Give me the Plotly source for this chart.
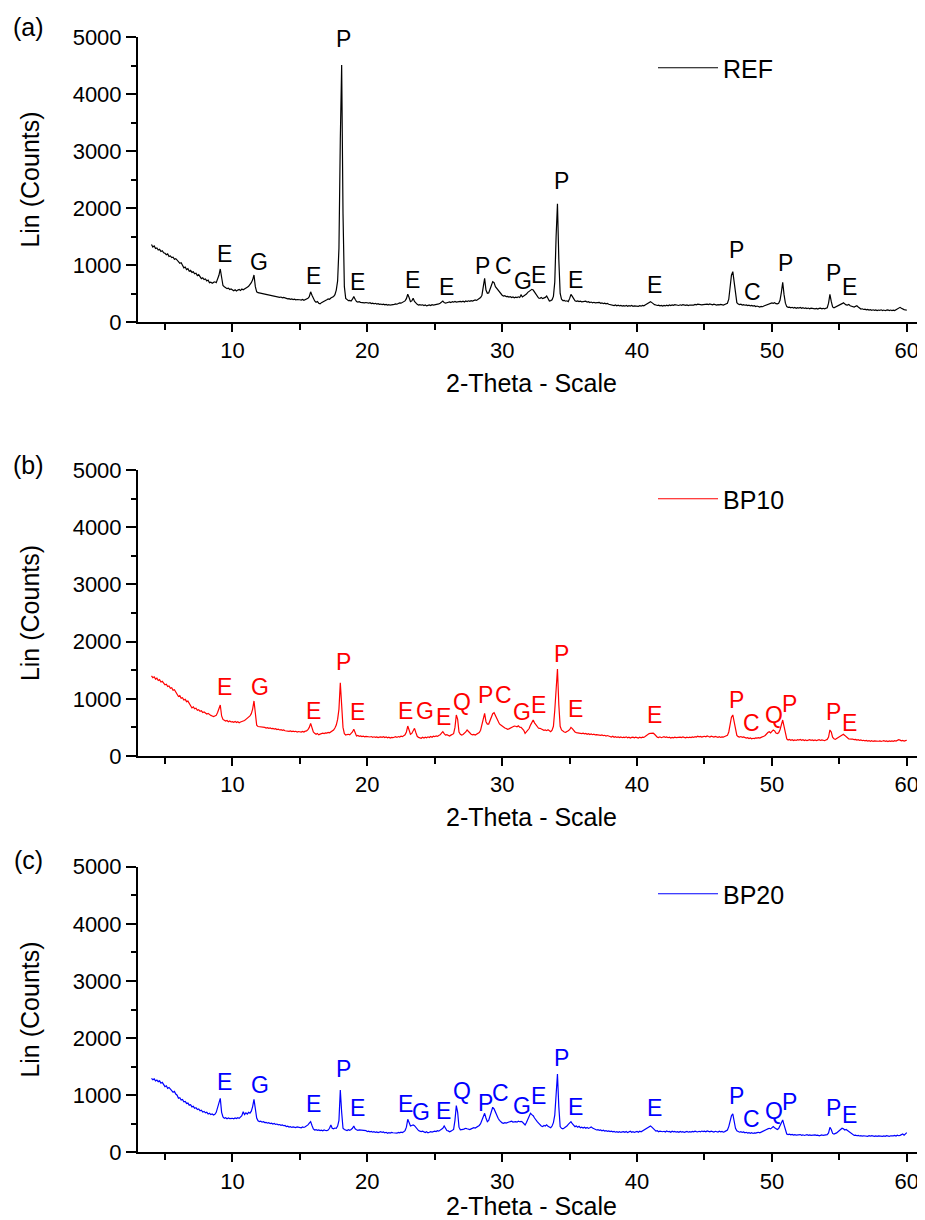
import plotly.graph_objects as go

# ---------------- data (2-theta scan: start 4.0 deg, step 0.1 deg) ----------------
two_theta_start = 4.0
two_theta_step = 0.1

ref_counts = [
    1360, 1315, 1335, 1290, 1300, 1262, 1275, 1238, 1250, 1215,
    1205, 1180, 1195, 1150, 1160, 1130, 1138, 1100, 1112, 1075,
    1060, 1030, 1040, 995, 950, 965, 920, 935, 890, 905,
    870, 880, 845, 855, 815, 830, 790, 760, 775, 745,
    755, 720, 735, 690, 700, 680, 695, 705, 690, 740,
    820, 930, 760, 640, 620, 600, 585, 595, 570, 580,
    555, 548, 565, 545, 560, 570, 552, 578, 565, 585,
    590, 610, 625, 650, 690, 740, 825, 620, 530, 515,
    510, 498, 505, 488, 492, 478, 482, 470, 476, 466,
    460, 452, 455, 440, 446, 432, 438, 425, 430, 420,
    415, 405, 410, 398, 404, 394, 400, 388, 394, 386,
    390, 384, 396, 380, 392, 398, 415, 445, 530, 470,
    410, 370, 345, 360, 330, 318, 340, 350, 365, 372,
    390, 405, 398, 420, 430, 445, 480, 560, 720, 1300,
    3200, 4510, 1900, 620, 415, 390, 374, 380, 368, 400,
    445, 400, 360, 350, 356, 345, 340, 348, 335, 342,
    338, 330, 340, 325, 332, 320, 328, 315, 322, 310,
    315, 305, 312, 300, 308, 298, 304, 295, 302, 300,
    310, 318, 312, 325, 335, 330, 340, 352, 370, 410,
    486, 430, 356, 370, 415, 360, 330, 310, 298, 305,
    295, 302, 288, 298, 282, 295, 300, 290, 305, 298,
    300, 310, 305, 318, 330, 345, 368, 340, 330, 338,
    345, 352, 340, 358, 348, 362, 350, 355, 348, 360,
    355, 365, 352, 368, 358, 372, 362, 375, 368, 380,
    386, 378, 392, 410, 430, 470, 600, 766, 560, 503,
    510, 560, 640, 708, 690, 620, 590, 545, 510, 490,
    470, 455, 462, 444, 450, 438, 446, 430, 440, 425,
    435, 428, 442, 430, 474, 440, 455, 470, 490, 520,
    540, 555, 573, 560, 520, 480, 450, 420, 415, 430,
    410, 418, 432, 456, 415, 368, 375, 390, 450, 700,
    1500, 2074, 1100, 500, 400, 374, 380, 365, 372, 358,
    410, 485, 450, 395, 372, 362, 370, 357, 366, 355,
    360, 352, 365, 348, 356, 342, 350, 338, 346, 335,
    340, 332, 345, 328, 336, 322, 330, 318, 326, 312,
    305, 296, 302, 288, 298, 284, 294, 282, 290, 280,
    288, 278, 292, 276, 286, 280, 290, 276, 284, 278,
    282, 275, 288, 278, 292, 285, 300, 315, 330, 350,
    357, 340, 320, 305, 298, 290, 296, 284, 292, 280,
    290, 282, 294, 285, 298, 288, 300, 292, 304, 296,
    300, 290, 302, 294, 306, 296, 292, 300, 288, 298,
    294, 302, 296, 308, 300, 312, 304, 310, 300, 306,
    310, 302, 314, 306, 318, 308, 300, 312, 304, 298,
    306, 300, 310, 302, 296, 308, 318, 330, 400, 600,
    820, 883, 700, 450, 340, 315, 305, 312, 298, 305,
    294, 300, 288, 296, 282, 290, 278, 286, 272, 280,
    270, 262, 275, 268, 280, 290, 298, 310, 318, 326,
    335, 328, 339, 322, 318, 330, 380, 520, 696, 480,
    330, 270, 257, 262, 250, 258, 246, 255, 242, 252,
    245, 254, 240, 250, 238, 248, 236, 245, 232, 242,
    238, 246, 232, 240, 228, 238, 244, 232, 240, 230,
    236, 250, 330, 486, 360, 265, 250, 262, 275, 280,
    285, 300, 322, 339, 318, 300, 296, 308, 285, 278,
    270, 262, 275, 285, 262, 240, 228, 232, 220, 226,
    215, 222, 210, 218, 206, 214, 204, 212, 200, 210,
    205, 214, 202, 210, 198, 208, 214, 202, 210, 200,
    208, 200, 212, 220, 232, 257, 240, 222, 218, 212,
    210,
]

bp10_counts = [
    1400, 1370, 1385, 1345, 1360, 1320, 1335, 1295, 1305, 1270,
    1245, 1255, 1215, 1225, 1185, 1195, 1150, 1160, 1120, 1095,
    1040, 1055, 1010, 1020, 980, 990, 950, 960, 920, 905,
    840, 860, 825, 835, 800, 810, 780, 790, 760, 770,
    750, 735, 745, 720, 710, 700, 688, 700, 710, 760,
    830, 892, 700, 640, 625, 610, 620, 600, 612, 595,
    600, 590, 605, 585, 598, 582, 595, 600, 612, 620,
    640, 655, 670, 700, 740, 820, 962, 700, 540, 515,
    513, 505, 510, 495, 500, 488, 495, 484, 490, 478,
    484, 470, 478, 462, 468, 455, 462, 448, 455, 442,
    437, 445, 432, 440, 428, 435, 425, 432, 420, 428,
    425, 418, 430, 420, 435, 440, 460, 500, 571, 480,
    420, 396, 380, 395, 370, 382, 390, 398, 392, 405,
    400, 412, 405, 420, 430, 455, 490, 540, 640, 820,
    1282, 900, 500, 390, 367, 375, 380, 370, 390, 420,
    466, 410, 350, 358, 345, 352, 340, 348, 335, 342,
    338, 345, 332, 340, 328, 336, 325, 334, 322, 330,
    335, 326, 338, 322, 332, 318, 328, 315, 325, 320,
    330, 338, 325, 340, 332, 345, 338, 352, 370, 420,
    524, 455, 379, 395, 430, 484, 410, 345, 325, 318,
    309, 327, 315, 330, 318, 335, 322, 340, 328, 345,
    338, 350, 342, 360, 370, 400, 425, 390, 365, 372,
    358, 350, 365, 372, 390, 500, 717, 640, 420, 380,
    367, 375, 390, 420, 455, 430, 395, 380, 370, 378,
    367, 380, 390, 410, 450, 550, 660, 746, 600, 559,
    559, 620, 700, 740, 757, 700, 640, 600, 560, 542,
    520, 505, 490, 480, 466, 475, 490, 500, 512, 524,
    520, 510, 528, 505, 501, 480, 450, 396, 420, 450,
    480, 540, 600, 629, 580, 540, 505, 485, 484, 470,
    460, 450, 455, 443, 460, 440, 425, 450, 520, 800,
    1200, 1521, 900, 520, 455, 430, 420, 415, 425, 440,
    460, 501, 480, 440, 420, 410, 405, 398, 396, 392,
    400, 388, 395, 380, 390, 375, 385, 372, 380, 368,
    375, 367, 372, 360, 368, 355, 362, 350, 358, 345,
    340, 332, 345, 328, 338, 325, 335, 322, 332, 320,
    330, 322, 335, 318, 328, 315, 325, 330, 318, 328,
    322, 315, 328, 318, 330, 325, 340, 360, 380, 392,
    396, 392, 398, 380, 350, 330, 322, 335, 320, 330,
    338, 325, 332, 320, 328, 315, 325, 318, 330, 322,
    326, 318, 330, 322, 335, 325, 318, 330, 320, 328,
    322, 332, 325, 338, 330, 345, 335, 342, 330, 338,
    345, 335, 350, 340, 332, 345, 338, 330, 342, 335,
    328, 338, 325, 335, 330, 340, 345, 360, 420, 560,
    680, 717, 600, 430, 360, 338, 330, 340, 328, 335,
    318, 312, 320, 305, 315, 300, 310, 305, 318, 312,
    320, 312, 325, 330, 345, 360, 390, 410, 425, 405,
    430, 455, 440, 400, 392, 405, 460, 560, 629, 520,
    380, 300, 280, 290, 275, 285, 270, 282, 272, 285,
    278, 288, 275, 284, 270, 280, 268, 278, 285, 275,
    282, 270, 280, 268, 278, 285, 272, 282, 275, 268,
    280, 290, 330, 455, 420, 330, 300, 290, 305, 320,
    330, 345, 370, 379, 360, 330, 320, 300, 292, 295,
    295, 285, 290, 278, 285, 272, 280, 268, 275, 265,
    272, 262, 270, 258, 268, 255, 265, 260, 268, 258,
    265, 255, 262, 270, 258, 265, 252, 262, 255, 265,
    258, 268, 262, 275, 285, 278, 265, 272, 262, 270,
    275,
]

bp20_counts = [
    1295, 1270, 1285, 1250, 1265, 1237, 1250, 1210, 1225, 1190,
    1149, 1165, 1120, 1135, 1095, 1080, 1050, 1065, 1020, 1000,
    945, 955, 915, 925, 885, 890, 855, 862, 825, 832,
    795, 805, 770, 780, 748, 758, 728, 738, 705, 715,
    690, 700, 672, 684, 660, 670, 653, 665, 700, 780,
    870, 945, 700, 620, 595, 605, 588, 600, 590, 598,
    595, 585, 600, 590, 605, 595, 610, 640, 712, 660,
    690, 670, 700, 685, 720, 800, 928, 760, 600, 550,
    537, 545, 528, 535, 520, 525, 510, 518, 502, 510,
    496, 505, 488, 495, 480, 486, 472, 478, 465, 470,
    449, 458, 442, 450, 436, 445, 440, 432, 446, 438,
    438, 430, 445, 435, 448, 460, 480, 510, 537, 470,
    410, 391, 398, 385, 392, 380, 388, 375, 390, 382,
    379, 390, 420, 478, 420, 410, 425, 420, 460, 560,
    1091, 700, 420, 400, 390, 380, 395, 385, 400, 420,
    461, 410, 395, 385, 392, 391, 380, 388, 375, 380,
    362, 370, 358, 365, 352, 360, 348, 356, 345, 352,
    360, 348, 356, 340, 350, 333, 345, 338, 350, 342,
    337, 345, 335, 348, 340, 352, 345, 360, 380, 440,
    578, 520, 460, 470, 478, 465, 440, 400, 380, 370,
    362, 370, 355, 345, 360, 340, 350, 362, 355, 365,
    370, 362, 378, 370, 385, 395, 420, 461, 430, 380,
    375, 360, 370, 380, 400, 560, 817, 700, 440, 395,
    391, 400, 410, 420, 412, 405, 398, 410, 420, 430,
    425, 438, 450, 470, 500, 560, 640, 683, 600, 537,
    560, 640, 720, 788, 760, 700, 640, 595, 560, 530,
    515, 508, 520, 510, 525, 530, 537, 545, 530, 540,
    537, 528, 545, 535, 540, 530, 505, 478, 520, 580,
    640, 683, 660, 640, 600, 560, 537, 510, 480, 460,
    449, 470, 460, 480, 455, 440, 430, 460, 520, 650,
    1100, 1371, 800, 450, 420, 412, 425, 440, 460, 490,
    520, 537, 500, 470, 449, 460, 440, 455, 430, 440,
    425, 440, 420, 435, 418, 430, 445, 425, 410, 400,
    391, 398, 385, 392, 378, 388, 372, 380, 368, 375,
    362, 370, 358, 366, 352, 362, 350, 360, 348, 358,
    362, 350, 365, 345, 360, 370, 352, 362, 348, 358,
    365, 352, 370, 360, 375, 385, 400, 420, 440, 455,
    461, 440, 410, 385, 370, 378, 360, 372, 365, 360,
    368, 355, 372, 360, 365, 352, 370, 358, 366, 352,
    360, 350, 365, 355, 362, 348, 358, 366, 352, 362,
    355, 365, 358, 370, 362, 356, 368, 360, 372, 362,
    370, 360, 375, 365, 358, 370, 362, 355, 368, 360,
    355, 368, 358, 365, 352, 362, 372, 390, 450, 560,
    640, 671, 560, 420, 375, 360, 352, 362, 348, 355,
    340, 350, 336, 345, 333, 342, 330, 340, 335, 345,
    350, 340, 355, 360, 370, 385, 400, 410, 420, 410,
    440, 449, 430, 410, 400, 415, 460, 520, 566, 480,
    370, 320, 310, 318, 305, 312, 300, 310, 302, 308,
    303, 310, 298, 306, 295, 302, 310, 298, 305, 296,
    300, 292, 305, 296, 302, 290, 298, 305, 295, 300,
    305, 310, 340, 438, 400, 330, 318, 325, 340, 360,
    380, 400, 420, 410, 390, 400, 380, 360, 340, 320,
    305, 295, 300, 290, 296, 286, 292, 282, 290, 284,
    288, 280, 290, 282, 292, 284, 278, 288, 280, 286,
    282, 290, 278, 286, 280, 292, 284, 278, 290, 282,
    288, 295, 284, 300, 290, 296, 310, 320, 300, 315,
    344,
]

# phase labels: (letter, 2-theta, counts)
ref_labels = [
    ("E", 9.41, 1193), ("G", 11.99, 1053), ("E", 16.0, 807), ("P", 18.25, 4965),
    ("E", 19.3, 702), ("E", 23.35, 737), ("E", 25.9, 614), ("P", 28.52, 982),
    ("C", 30.13, 982), ("G", 31.57, 719), ("E", 32.68, 825), ("P", 34.41, 2474),
    ("E", 35.4, 737), ("E", 41.3, 649), ("P", 47.39, 1263), ("C", 48.55, 526),
    ("P", 51.02, 1035), ("P", 54.56, 860), ("E", 55.72, 614),
]
bp10_labels = [
    ("E", 9.41, 1201), ("G", 12.04, 1201), ("E", 16.03, 792), ("P", 18.26, 1638),
    ("E", 19.3, 764), ("E", 22.84, 792), ("G", 24.25, 792), ("E", 25.68, 687),
    ("Q", 27.04, 950), ("P", 28.77, 1066), ("C", 30.08, 1066), ("G", 31.49, 775),
    ("E", 32.68, 892), ("P", 34.41, 1783), ("E", 35.4, 816), ("E", 41.3, 717),
    ("P", 47.39, 979), ("C", 48.5, 583), ("Q", 50.15, 717), ("P", 51.27, 909),
    ("P", 54.56, 775), ("E", 55.72, 583),
]
bp20_labels = [
    ("E", 9.41, 1226), ("G", 12.04, 1179), ("E", 16.03, 840), ("P", 18.26, 1453),
    ("E", 19.3, 770), ("E", 22.84, 840), ("G", 24.0, 700), ("E", 25.68, 723),
    ("Q", 27.04, 1079), ("P", 28.77, 858), ("C", 29.88, 1044), ("G", 31.49, 811),
    ("E", 32.68, 986), ("P", 34.41, 1657), ("E", 35.4, 799), ("E", 41.3, 770),
    ("P", 47.39, 986), ("C", 48.5, 578), ("Q", 50.15, 723), ("P", 51.27, 886),
    ("P", 54.56, 770), ("E", 55.72, 653),
]

series_names = ["REF", "BP10", "BP20"]
panel_tags = ["(a)", "(b)", "(c)"]
x_tick_values = [10, 20, 30, 40, 50, 60]

# ---------------- figure ----------------
# the page body has an 8 px margin, so the figure is 8 px smaller and all
# layout positions are given in page pixels and shifted by that margin
PAGE_OFF = 8
W, H = 925 - PAGE_OFF, 1220 - PAGE_OFF
FONT = "Liberation Sans, Arial, sans-serif"
colors = ["#000000", "#ff0000", "#0000ff"]
all_counts = [ref_counts, bp10_counts, bp20_counts]
all_labels = [ref_labels, bp10_labels, bp20_labels]

def pxf(p):
    return (p - PAGE_OFF) / W

def pyf(p):
    return 1 - (p - PAGE_OFF) / H

x_dom = [pxf(138), 1.0]
y_doms = [[pyf(322), pyf(37)], [pyf(756), pyf(470)], [pyf(1152.3), pyf(866.7)]]
legend_y = [pyf(68), pyf(499), pyf(894)]
tag_y = [pyf(27), pyf(465), pyf(860)]

fig = go.Figure()
annotations = []
layout = dict(
    width=W, height=H,
    margin=dict(l=0, r=0, t=0, b=0),
    paper_bgcolor="white", plot_bgcolor="white",
    font=dict(family=FONT, color="black"),
    showlegend=True,
)

for i in range(3):
    sfx = "" if i == 0 else str(i + 1)
    counts = all_counts[i]
    tt = [round(two_theta_start + k * two_theta_step, 2) for k in range(len(counts))]
    lname = "legend" if i == 0 else "legend" + sfx
    fig.add_trace(go.Scatter(
        x=tt, y=counts, mode="lines", name=series_names[i],
        line=dict(color=colors[i], width=1.2),
        xaxis="x" + sfx, yaxis="y" + sfx, legend=lname,
        hoverinfo="skip",
    ))
    layout["xaxis" + sfx] = dict(
        domain=x_dom, anchor="y" + sfx, range=[3, 61.35],
        showline=True, linewidth=2, linecolor="black",
        ticks="outside", ticklen=8, tickwidth=2, tickcolor="black",
        tickvals=x_tick_values, tickfont=dict(size=22, family=FONT),
        minor=dict(dtick=5, tick0=0, ticks="outside", ticklen=6, tickwidth=2,
                   tickcolor="black", showgrid=False),
        showgrid=False, zeroline=False, automargin=False,
        title=dict(text="2-Theta - Scale", font=dict(size=25, family=FONT), standoff=12),
    )
    layout["yaxis" + sfx] = dict(
        domain=y_doms[i], anchor="x" + sfx, range=[0, 5000],
        showline=True, linewidth=2, linecolor="black",
        ticks="outside", ticklen=10, tickwidth=2, tickcolor="black",
        tickmode="linear", tick0=0, dtick=1000, tickfont=dict(size=22, family=FONT),
        minor=dict(dtick=500, tick0=0, ticks="outside", ticklen=5, tickwidth=2,
                   tickcolor="black", showgrid=False),
        showgrid=False, zeroline=False, automargin=False,
        title=dict(text="Lin (Counts)", font=dict(size=25, family=FONT), standoff=26),
    )
    layout[lname] = dict(
        x=pxf(653), y=legend_y[i], xanchor="left", yanchor="middle",
        bgcolor="rgba(0,0,0,0)", borderwidth=0,
        font=dict(size=25, family=FONT, color="black"),
        itemwidth=60,
    )
    for (txt, lx, ly) in all_labels[i]:
        annotations.append(dict(
            x=lx, y=ly, xref="x" + sfx, yref="y" + sfx, text=txt,
            showarrow=False, xanchor="center", yanchor="middle",
            font=dict(size=23, family=FONT, color=colors[i]),
        ))
    annotations.append(dict(
        x=pxf(28), y=tag_y[i], xref="paper", yref="paper", text=panel_tags[i],
        showarrow=False, xanchor="center", yanchor="middle",
        font=dict(size=25, family=FONT, color="black"),
    ))

layout["annotations"] = annotations
fig.update_layout(**layout)
fig.write_html("out.html")
